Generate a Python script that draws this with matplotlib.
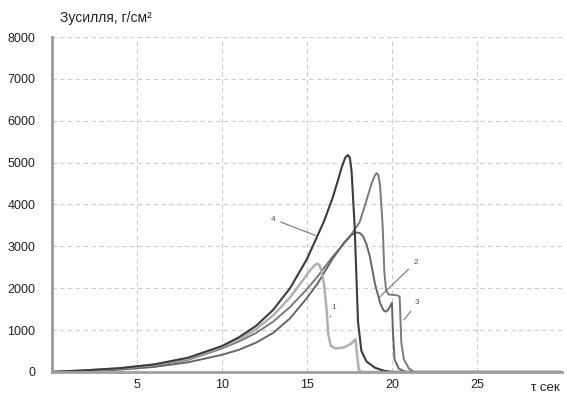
import matplotlib.pyplot as plt

plt.rcParams['font.family'] = ['Liberation Sans', 'DejaVu Sans']

# curve 1 (light gray)
t1 = [0, 2, 4, 6, 8, 10, 11, 12, 13, 14, 14.5, 15, 15.25, 15.45, 15.6, 15.72, 15.85,
      16.0, 16.15, 16.25, 16.4, 16.7, 17.2, 17.6, 17.85, 17.95, 18.05, 18.2, 30]
f1 = [0, 35, 85, 170, 320, 600, 780, 1020, 1350, 1780, 2050, 2330, 2460, 2550, 2590,
      2560, 2420, 2100, 1500, 900, 620, 560, 590, 680, 780, 400, 50, 0, 0]

# curve 2 (peak ~3300, valley, drop at 20 s)
t2 = [0, 2, 4, 6, 8, 10, 11, 12, 13, 14, 15, 15.6, 16.5, 17.2, 17.6, 17.9, 18.1,
      18.3, 18.5, 18.7, 19.0, 19.3, 19.5, 19.65, 19.8, 20.0, 20.05, 20.15, 20.4,
      20.8, 30]
f2 = [0, 20, 55, 120, 230, 410, 530, 700, 930, 1280, 1770, 2100, 2700, 3100, 3270,
      3330, 3320, 3240, 3050, 2750, 2100, 1650, 1470, 1440, 1500, 1650, 1000, 300,
      80, 0, 0]

# curve 3 (peak ~4750, plateau, drop at 20.5 s)
t3 = [0, 2, 4, 6, 8, 10, 11, 12, 13, 14, 15, 15.6, 16.5, 17.5, 18.1, 18.5, 18.8,
      19.0, 19.1, 19.2, 19.3, 19.45, 19.55, 19.65, 19.8, 20.3, 20.45, 20.55, 20.7,
      21.0, 21.3, 30]
f3 = [0, 30, 75, 150, 290, 560, 730, 930, 1200, 1550, 1980, 2270, 2750, 3220, 3580,
      4100, 4500, 4700, 4750, 4700, 4450, 3500, 2400, 1950, 1850, 1830, 1800, 700,
      300, 80, 0, 0]

# curve 4 (dark, peak ~5200)
t4 = [0, 2, 4, 6, 8, 10, 11, 12, 13, 14, 15, 16, 16.5, 16.8, 17.05, 17.25, 17.4,
      17.52, 17.62, 17.8, 18.0, 18.2, 18.5, 19.0, 19.5, 20.0, 30]
f4 = [0, 40, 90, 180, 340, 620, 830, 1100, 1480, 2000, 2700, 3600, 4150, 4550,
      4900, 5120, 5180, 5120, 4800, 3500, 1200, 500, 250, 100, 30, 0, 0]

x_ticks = [5, 10, 15, 20, 25]
y_ticks = [0, 1000, 2000, 3000, 4000, 5000, 6000, 7000, 8000]

fig = plt.figure(figsize=(5.67, 3.94), dpi=100)
ax = fig.add_axes([0.092, 0.056, 0.899, 0.85])

ax.plot(t3, f3, color='#7a7a7a', lw=1.4)
ax.plot(t2, f2, color='#666666', lw=1.4)
ax.plot(t1, f1, color='#b0b0b0', lw=1.8)
ax.plot(t4, f4, color='#3c3c3c', lw=1.5)

ax.set_xlim(0, 30)
ax.set_ylim(0, 8000)
ax.set_xticks(x_ticks)
ax.set_yticks(y_ticks)
ax.tick_params(length=0, labelsize=9, colors='#222222')
ax.tick_params(axis='y', pad=12)
ax.tick_params(axis='x', pad=5)

for v in [5, 10, 15, 20, 25, 30]:
    ax.axvline(v, color='#cccccc', lw=0.8, ls=(0, (4, 3)), zorder=0)
for v in y_ticks[1:]:
    ax.axhline(v, color='#cccccc', lw=0.8, ls=(0, (4, 3)), zorder=0)

for s in ['top', 'right']:
    ax.spines[s].set_visible(False)
ax.spines['left'].set_color('#999999')
ax.spines['left'].set_linewidth(2)
ax.spines['bottom'].set_color('#a0a0a0')
ax.spines['bottom'].set_linewidth(2)

# curve labels with leader lines
lab = dict(fontsize=6, color='#555555', ha='center', va='center',
           arrowprops=dict(arrowstyle='-', color='#777777', lw=0.8))
ax.annotate('4', xy=(15.76, 3220), xytext=(13.0, 3650), **lab)
ax.annotate('1', xy=(16.3, 1250), xytext=(16.6, 1550), **lab)
ax.annotate('2', xy=(19.1, 1720), xytext=(21.4, 2620), **lab)
ax.annotate('3', xy=(20.6, 1190), xytext=(21.5, 1650), **lab)

fig.text(0.106, 0.955, 'Зусилля, г/см²', fontsize=10, color='#222222',
         ha='left', va='center')
ax.text(29.9, -230, 'τ сек', fontsize=9.5, color='#222222', ha='right', va='top')

fig.savefig('out.png', dpi=100)
